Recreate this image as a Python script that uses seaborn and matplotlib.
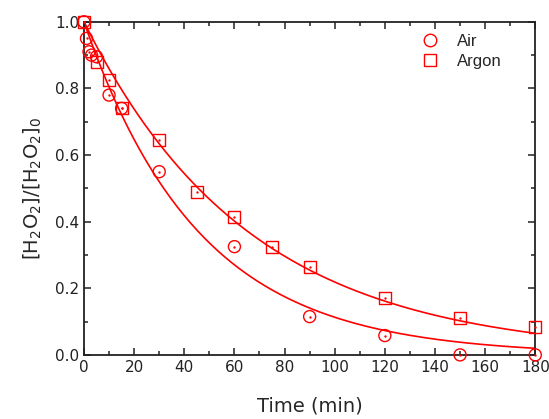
import numpy as np
import pandas as pd
import matplotlib
matplotlib.use("Agg")
import matplotlib.pyplot as plt
from matplotlib.lines import Line2D
from matplotlib.ticker import MultipleLocator
import seaborn as sns

# measured points
air_time = [0, 1, 2, 3, 5, 10, 15, 30, 60, 90, 120, 150, 180]
air_ratio = [1.0, 0.95, 0.91, 0.90, 0.895, 0.78, 0.74, 0.55, 0.325, 0.115, 0.058, 0.0, 0.0]
argon_time = [0, 5, 10, 15, 30, 45, 60, 75, 90, 120, 150, 180]
argon_ratio = [1.0, 0.88, 0.825, 0.74, 0.645, 0.49, 0.415, 0.325, 0.265, 0.17, 0.11, 0.085]

# first-order fit rate constants (1/min)
k_air = 0.0218
k_argon = 0.0152

t_fit = np.linspace(0, 180, 200)
fit = pd.DataFrame({
    "t": np.concatenate([t_fit, t_fit]),
    "y": np.concatenate([np.exp(-k_air * t_fit), np.exp(-k_argon * t_fit)]),
    "gas": ["Air"] * len(t_fit) + ["Argon"] * len(t_fit),
})

sns.set_style("ticks")
plt.rcParams['font.family'] = ['DejaVu Sans']

fig = plt.figure(figsize=(5.49, 4.19), dpi=100)
ax = fig.add_axes([0.153, 0.153, 0.822, 0.795])

red = "#ff0000"
sns.lineplot(data=fit, x="t", y="y", units="gas", estimator=None,
             color=red, lw=1.2, ax=ax, legend=False)

sns.scatterplot(x=air_time, y=air_ratio, marker="o", s=75, facecolor="none",
                edgecolor=red, linewidth=1.0, ax=ax, clip_on=False, zorder=3)
sns.scatterplot(x=argon_time, y=argon_ratio, marker="s", s=75, facecolor="none",
                edgecolor=red, linewidth=1.0, ax=ax, clip_on=False, zorder=3)
# centre dots
ax.scatter(air_time + argon_time, air_ratio + argon_ratio, s=0.5, color=red,
           zorder=4, clip_on=False)

ax.set_xlim(0, 180)
ax.set_ylim(0, 1.0)
ax.xaxis.set_major_locator(MultipleLocator(20))
ax.xaxis.set_minor_locator(MultipleLocator(10))
ax.yaxis.set_major_locator(MultipleLocator(0.2))
ax.yaxis.set_minor_locator(MultipleLocator(0.1))
ax.yaxis.set_major_formatter(plt.FormatStrFormatter("%.1f"))
ax.tick_params(which="both", direction="in", top=True, right=True,
               labeltop=False, labelright=False, colors="#222222")
ax.tick_params(which="major", length=5, width=1.1, labelsize=11)
ax.tick_params(which="minor", length=3, width=1.1)
for sp in ax.spines.values():
    sp.set_linewidth(1.3)
    sp.set_color("#222222")

ax.set_xlabel("Time (min)", fontsize=14, labelpad=16)
ax.set_ylabel(r"[H$_2$O$_2$]/[H$_2$O$_2$]$_0$", fontsize=14, labelpad=8)

handles = [
    Line2D([], [], ls="none", marker="o", ms=9, mfc="none", mec=red, mew=1.0),
    Line2D([], [], ls="none", marker="s", ms=8, mfc="none", mec=red, mew=1.0),
]
leg = ax.legend(handles, ["Air", "Argon"], loc="upper right", frameon=False,
                prop={"family": "Liberation Sans", "size": 12},
                bbox_to_anchor=(0.958, 1.008), handletextpad=0.6,
                labelspacing=0.3)

fig.savefig("out.png", dpi=100)
